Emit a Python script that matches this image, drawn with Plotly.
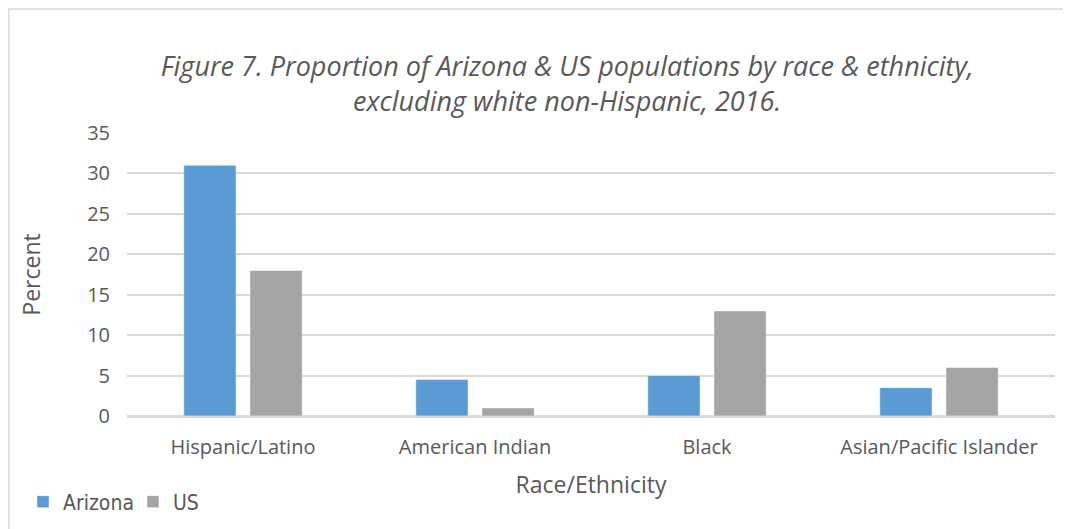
import plotly.graph_objects as go

# Data
categories = ["Hispanic/Latino", "American Indian", "Black", "Asian/Pacific Islander"]
arizona = [31, 4.5, 5, 3.5]
us = [18, 1, 13, 6]

BLUE = "#5B9BD5"
GRAY = "#A5A5A5"
TEXT = "#595959"
GRID = "#D9D9D9"
FONT = "Open Sans"

W, H = 1063, 521
L, R, T, B = 119, 16, 125, 113
PW, PH = W - L - R, H - T - B

fig = go.Figure()
fig.add_trace(go.Bar(
    x=categories, y=arizona, name="Arizona",
    marker=dict(color=BLUE, line=dict(color="#FFFFFF", width=0.5)),
))
fig.add_trace(go.Bar(
    x=categories, y=us, name="US",
    marker=dict(color=GRAY, line=dict(color="#FFFFFF", width=0.5)),
))

fig.update_layout(
    width=W, height=H,
    barmode="group",
    bargap=0.43,
    bargroupgap=0.21,
    paper_bgcolor="white",
    plot_bgcolor="white",
    font=dict(family=FONT, color=TEXT, size=20),
    title=dict(
        text="<i>Figure 7. Proportion of Arizona & US populations by race & ethnicity,"
             "<br>excluding white non-Hispanic, 2016.</i>",
        x=0.526, xanchor="center", y=(H - 68) / H, yanchor="middle",
        font=dict(family=FONT, size=27, color=TEXT),
    ),
    legend=dict(
        orientation="h", x=(15 - L) / PW, y=-86 / PH,
        xanchor="left", yanchor="middle",
        font=dict(family="DejaVu Sans Condensed", size=21, color=TEXT),
        itemwidth=30, tracegroupgap=0, entrywidth=65,
    ),
    margin=dict(l=L, r=R, t=T, b=B, autoexpand=False),
    shapes=[dict(
        type="rect", xref="paper", yref="paper",
        x0=(1 - L) / PW, x1=1 + (R + 10) / PW,
        y0=-(B + 10) / PH, y1=1 + (T - 1) / PH,
        line=dict(color=GRID, width=1.5), fillcolor="rgba(0,0,0,0)",
        layer="below",
    )],
)
fig.update_xaxes(
    title=dict(text="Race/Ethnicity", font=dict(size=23, color=TEXT), standoff=18),
    showline=True, linecolor=GRID, linewidth=1.5,
    ticks="", ticklabelstandoff=12, tickfont=dict(size=20, color=TEXT),
)
fig.update_yaxes(
    title=dict(text="Percent", font=dict(size=23, color=TEXT), standoff=40),
    range=[0, 35], dtick=5,
    showgrid=True, gridcolor=GRID, gridwidth=1.5,
    zeroline=True, zerolinecolor=GRID, zerolinewidth=1.5,
    ticks="", ticklabelstandoff=16, tickfont=dict(size=20, color=TEXT),
)

fig.write_html("out.html")
